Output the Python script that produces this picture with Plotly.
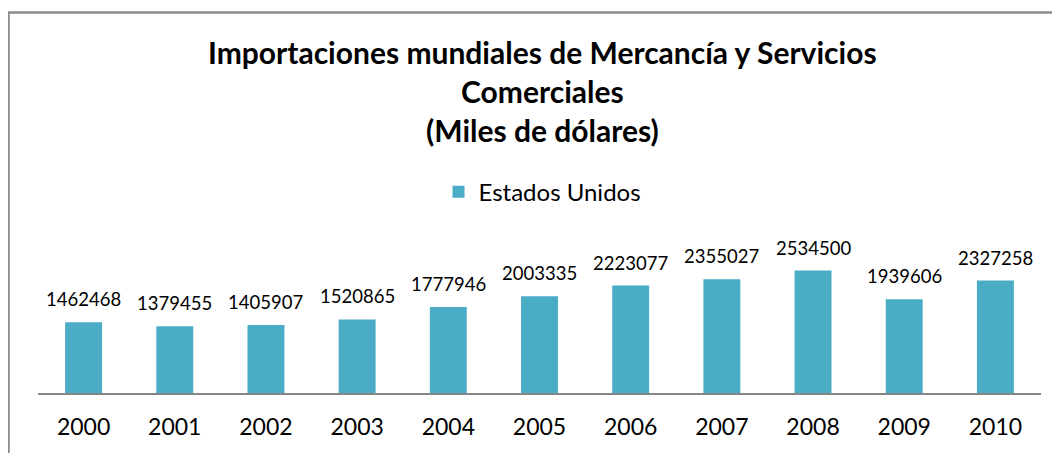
import plotly.graph_objects as go

years = ["2000", "2001", "2002", "2003", "2004", "2005", "2006", "2007", "2008", "2009", "2010"]
values = [1462468, 1379455, 1405907, 1520865, 1777946, 2003335, 2223077, 2355027, 2534500, 1939606, 2327258]
series_name = "Estados Unidos"
title_lines = ["Importaciones mundiales de Mercancía y Servicios", "Comerciales", "(Miles de dólares)"]

FONT = "Lato"
BAR = "#4BACC6"

fig = go.Figure()
fig.add_trace(go.Bar(
    x=years, y=values, name=series_name,
    marker=dict(color=BAR, line=dict(width=0)),
    hoverinfo="x+y",
))

annotations = [
    dict(x=i, y=v, xref="x", yref="y", text=str(v), showarrow=False,
         yanchor="bottom", yshift=10, font=dict(family=FONT, size=18.5, color="#000"))
    for i, v in enumerate(values)
]
title_y = [2.351, 2.083, 1.814]
for line, ty in zip(title_lines, title_y):
    annotations.append(dict(x=0.503, y=ty, xref="paper", yref="paper", text="<b>%s</b>" % line,
                            showarrow=False, xanchor="center", yanchor="middle",
                            font=dict(family=FONT, size=30, color="#000")))

fig.update_layout(
    width=1060, height=453,
    margin=dict(l=30, r=27, t=240, b=68),
    paper_bgcolor="white", plot_bgcolor="white",
    bargap=0.595,
    showlegend=True,
    legend=dict(orientation="h", x=0.503, xanchor="center", y=1.386, yanchor="middle",
                font=dict(family=FONT, size=24, color="#000"),
                bgcolor="rgba(0,0,0,0)"),
    xaxis=dict(type="category", showline=True, linecolor="#868686", linewidth=2,
               ticks="", showgrid=False, zeroline=False, ticklabelstandoff=12,
               tickfont=dict(family=FONT, size=23, color="#000")),
    yaxis=dict(range=[0, 3000000], visible=False, showgrid=False, zeroline=False),
    annotations=annotations,
    shapes=[dict(type="rect", xref="paper", yref="paper",
                 x0=-0.0294, x1=1.2, y0=-1.0, y1=2.624,
                 line=dict(color="#8c8c8c", width=2.5), fillcolor="rgba(0,0,0,0)",
                 layer="below")],
)

fig.write_html("out.html")
